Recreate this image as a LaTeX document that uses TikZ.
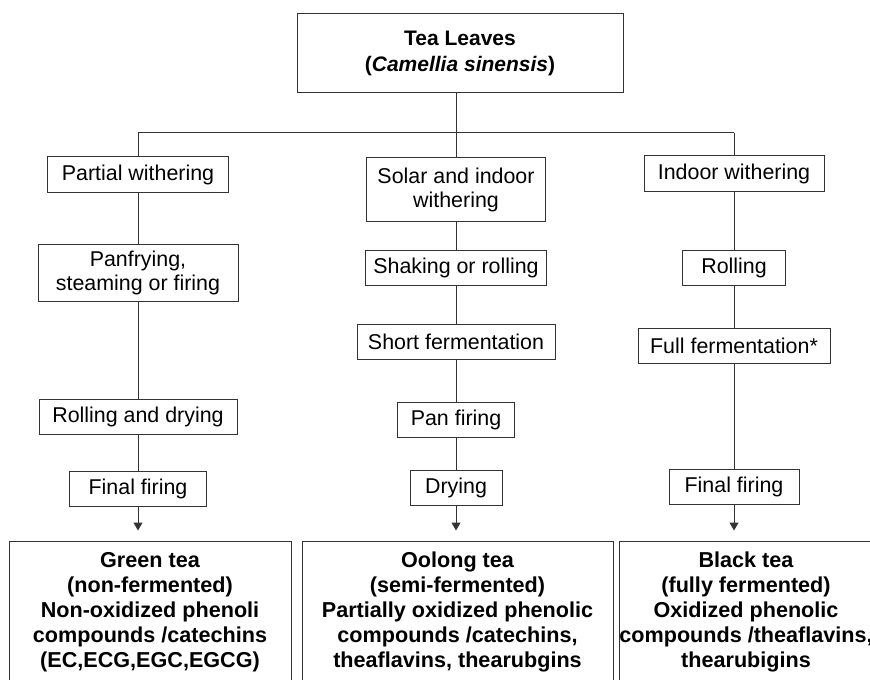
\documentclass[tikz,border=0pt]{standalone}
\usepackage{fontspec}
\setmainfont{Liberation Sans}
\usetikzlibrary{arrows.meta}

\tikzstyle{source} = [rectangle, draw=black!80, line width=0.5pt, minimum width=163pt, minimum height=39.5pt, inner sep=0pt, align=center, font=\fontsize{10.5}{13}\selectfont\bfseries]
\tikzstyle{stage} = [rectangle, draw=black!80, line width=0.5pt, minimum height=17.5pt, inner sep=0pt, align=center, font=\fontsize{10.7}{12}\selectfont]
\tikzstyle{product} = [rectangle, draw=black!80, line width=0.5pt, minimum height=71pt, inner sep=0pt, align=center, font=\fontsize{10.8}{12.5}\selectfont\bfseries]
\tikzstyle{line} = [draw=black!80, line width=0.5pt]
\tikzstyle{arrow} = [line, -{Triangle[width=4.5pt,length=4pt]}, shorten >=5pt]

\begin{document}
\begin{tikzpicture}[x=0.5pt, y=-0.5pt]
\useasboundingbox (0,0) rectangle (870,679);

\node (start) [source] at (460,53.5) {Tea Leaves\\(\textit{Camellia sinensis})};

% green tea
\node (grn1) [stage, minimum width=90.5pt] at (138,174.5) {Partial withering};
\node (grn2) [stage, minimum width=100pt, minimum height=28.5pt] at (138,272.5) {Panfrying,\\steaming or firing};
\node (grn3) [stage, minimum width=99pt] at (138,416.5) {Rolling and drying};
\node (grn4) [stage, minimum width=68.5pt] at (138,488.5) {Final firing};
\node (grn) [product, minimum width=141pt] at (150,612) {Green tea\\(non-fermented)\\Non-oxidized phenoli\\compounds /catechins\\(EC,ECG,EGC,EGCG)};

% oolong tea
\node (olg1) [stage, minimum width=89.5pt, minimum height=31.5pt] at (456,189.5) {Solar and indoor\\withering};
\node (olg2) [stage, minimum width=90.5pt] at (456,268) {Shaking or rolling};
\node (olg3) [stage, minimum width=99pt] at (456,341.5) {Short fermentation};
\node (olg4) [stage, minimum width=58.5pt] at (456,419.5) {Pan firing};
\node (olg5) [stage, minimum width=46pt] at (456,488) {Drying};
\node (olg) [product, minimum width=155.5pt] at (457.5,612) {Oolong tea\\(semi-fermented)\\Partially oxidized phenolic\\compounds /catechins,\\theaflavins, thearubgins};

% black tea
\node (blk1) [stage, minimum width=90pt] at (734,173.5) {Indoor withering};
\node (blk2) [stage, minimum width=51.5pt] at (734,267.5) {Rolling};
\node (blk3) [stage, minimum width=96pt] at (734,345.5) {Full fermentation*};
\node (blk4) [stage, minimum width=65pt] at (734,486.5) {Final firing};
\node (blk) [product, minimum width=126pt] at (746,612) {Black tea\\(fully fermented)\\Oxidized phenolic\\compounds /theaflavins,\\thearubigins};

% branching
\coordinate (fork) at (456,133);
\coordinate (forkl) at (138,133);
\coordinate (forkr) at (734,133);
\draw [line] (start.south -| fork) -- (fork);
\draw [line] (forkl) -- (forkr);
\draw [line] (forkl) -- (grn1);
\draw [line] (fork) -- (olg1);
\draw [line] (forkr) -- (blk1);

\draw [line] (grn1) -- (grn2);
\draw [line] (grn2) -- (grn3);
\draw [line] (grn3) -- (grn4);
\draw [arrow] (grn4) -- (grn4 |- grn.north);

\draw [line] (olg1) -- (olg2);
\draw [line] (olg2) -- (olg3);
\draw [line] (olg3) -- (olg4);
\draw [line] (olg4) -- (olg5);
\draw [arrow] (olg5) -- (olg5 |- olg.north);

\draw [line] (blk1) -- (blk2);
\draw [line] (blk2) -- (blk3);
\draw [line] (blk3) -- (blk4);
\draw [arrow] (blk4) -- (blk4 |- blk.north);

\end{tikzpicture}
\end{document}
